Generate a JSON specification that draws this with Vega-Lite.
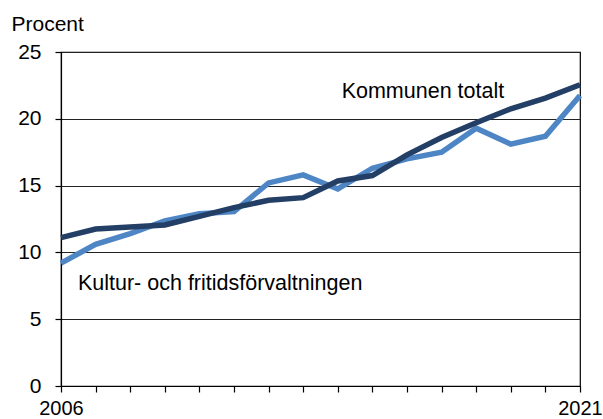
{
  "$schema": "https://vega.github.io/schema/vega-lite/v6.json",
  "width": 519,
  "height": 334,
  "autosize": {"type": "none"},
  "padding": {"left": 61, "top": 52, "right": 23, "bottom": 33},
  "background": "white",
  "config": {
    "font": "Liberation Sans",
    "view": {"stroke": "black", "strokeWidth": 1.2},
    "axis": {"labelFont": "Liberation Sans", "titleFont": "Liberation Sans", "labelColor": "black", "titleColor": "black"}
  },
  "datasets": {
    "series": [
      {"year": 2006, "serie": "Kultur- och fritidsförvaltningen", "value": 9.2},
      {"year": 2007, "serie": "Kultur- och fritidsförvaltningen", "value": 10.6},
      {"year": 2008, "serie": "Kultur- och fritidsförvaltningen", "value": 11.4},
      {"year": 2009, "serie": "Kultur- och fritidsförvaltningen", "value": 12.35},
      {"year": 2010, "serie": "Kultur- och fritidsförvaltningen", "value": 12.9},
      {"year": 2011, "serie": "Kultur- och fritidsförvaltningen", "value": 13.05},
      {"year": 2012, "serie": "Kultur- och fritidsförvaltningen", "value": 15.2},
      {"year": 2013, "serie": "Kultur- och fritidsförvaltningen", "value": 15.8},
      {"year": 2014, "serie": "Kultur- och fritidsförvaltningen", "value": 14.75},
      {"year": 2015, "serie": "Kultur- och fritidsförvaltningen", "value": 16.3},
      {"year": 2016, "serie": "Kultur- och fritidsförvaltningen", "value": 17.0},
      {"year": 2017, "serie": "Kultur- och fritidsförvaltningen", "value": 17.5},
      {"year": 2018, "serie": "Kultur- och fritidsförvaltningen", "value": 19.3},
      {"year": 2019, "serie": "Kultur- och fritidsförvaltningen", "value": 18.1},
      {"year": 2020, "serie": "Kultur- och fritidsförvaltningen", "value": 18.7},
      {"year": 2021, "serie": "Kultur- och fritidsförvaltningen", "value": 21.75},
      {"year": 2006, "serie": "Kommunen totalt", "value": 11.1},
      {"year": 2007, "serie": "Kommunen totalt", "value": 11.75},
      {"year": 2008, "serie": "Kommunen totalt", "value": 11.9},
      {"year": 2009, "serie": "Kommunen totalt", "value": 12.05},
      {"year": 2010, "serie": "Kommunen totalt", "value": 12.7},
      {"year": 2011, "serie": "Kommunen totalt", "value": 13.35},
      {"year": 2012, "serie": "Kommunen totalt", "value": 13.9},
      {"year": 2013, "serie": "Kommunen totalt", "value": 14.1},
      {"year": 2014, "serie": "Kommunen totalt", "value": 15.35},
      {"year": 2015, "serie": "Kommunen totalt", "value": 15.75},
      {"year": 2016, "serie": "Kommunen totalt", "value": 17.3},
      {"year": 2017, "serie": "Kommunen totalt", "value": 18.6},
      {"year": 2018, "serie": "Kommunen totalt", "value": 19.7},
      {"year": 2019, "serie": "Kommunen totalt", "value": 20.75},
      {"year": 2020, "serie": "Kommunen totalt", "value": 21.55},
      {"year": 2021, "serie": "Kommunen totalt", "value": 22.55}
    ],
    "labelCenter": [
      {"year": 2016.46, "value": 22.0, "text": "Kommunen totalt"}
    ],
    "labelLeft": [
      {"year": 2006.49, "value": 7.6, "text": "Kultur- och fritidsförvaltningen"}
    ]
  },
  "encoding": {
    "x": {
      "field": "year", "type": "quantitative",
      "scale": {"domain": [2006, 2021], "nice": false, "zero": false},
      "axis": {
        "title": null,
        "values": [2006, 2007, 2008, 2009, 2010, 2011, 2012, 2013, 2014, 2015, 2016, 2017, 2018, 2019, 2020, 2021],
        "labelExpr": "datum.value == 2006 || datum.value == 2021 ? format(datum.value, 'd') : ''",
        "grid": false,
        "domainColor": "black", "domainWidth": 1.2,
        "tickColor": "black", "tickSize": 6, "tickWidth": 1.2,
        "labelFontSize": 20, "labelPadding": 6, "labelFlush": false, "labelOverlap": false, "labelBound": false
      }
    },
    "y": {
      "field": "value", "type": "quantitative",
      "scale": {"domain": [0, 25], "nice": false},
      "axis": {
        "title": "Procent",
        "titleAngle": 0, "titleAlign": "left", "titleBaseline": "alphabetic",
        "titleX": -50, "titleY": -22, "titleFontSize": 21, "titleFontWeight": "normal",
        "values": [0, 5, 10, 15, 20, 25],
        "grid": true, "gridColor": "#222", "gridWidth": 1.2, "gridOpacity": 1,
        "domainColor": "black", "domainWidth": 1.2,
        "tickColor": "black", "tickSize": 6, "tickWidth": 1.2,
        "labelFontSize": 21, "labelPadding": 14
      }
    }
  },
  "layer": [
    {
      "data": {"name": "series"},
      "mark": {"type": "line", "strokeWidth": 5.5, "strokeJoin": "miter", "strokeCap": "butt", "clip": false},
      "encoding": {
        "color": {
          "field": "serie", "type": "nominal",
          "scale": {"domain": ["Kultur- och fritidsförvaltningen", "Kommunen totalt"], "range": ["#4e86c5", "#233f65"]},
          "legend": null
        },
        "order": {"field": "serie", "sort": "descending"}
      }
    },
    {
      "data": {"name": "labelCenter"},
      "mark": {"type": "text", "fontSize": 21.5, "baseline": "middle", "align": "center", "color": "black"},
      "encoding": {
        "text": {"field": "text"}
      }
    },
    {
      "data": {"name": "labelLeft"},
      "mark": {"type": "text", "fontSize": 21.5, "baseline": "middle", "align": "left", "color": "black"},
      "encoding": {
        "text": {"field": "text"}
      }
    }
  ]
}
